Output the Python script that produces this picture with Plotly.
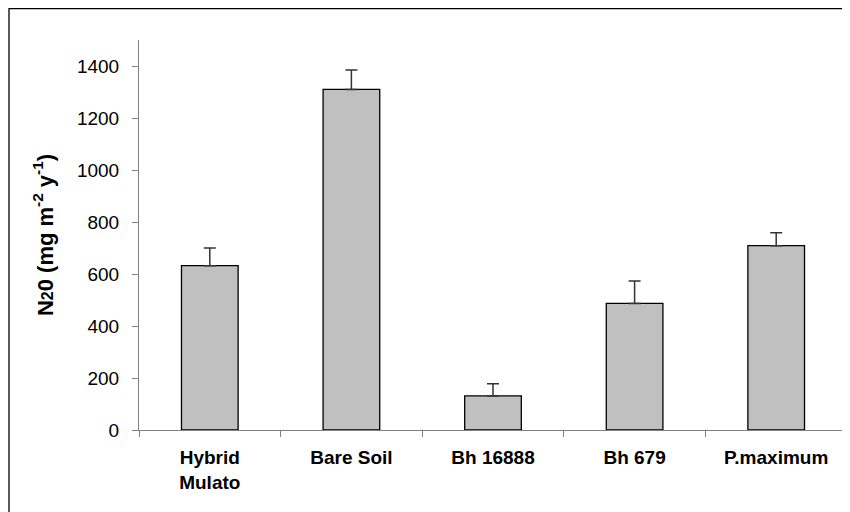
import plotly.graph_objects as go

categories = ["Hybrid<br>Mulato", "Bare Soil", "Bh 16888", "Bh 679", "P.maximum"]
values = [632, 1310, 131, 487, 709]
errors_plus = [68, 75, 47, 86, 50]
errors_minus = [0, 0, 0, 0, 0]
y_ticks = [0, 200, 400, 600, 800, 1000, 1200, 1400]

FONT = "Liberation Sans, Arial, sans-serif"

fig = go.Figure()
fig.add_trace(go.Bar(
    x=categories,
    y=values,
    width=0.4,
    marker=dict(color="#C0C0C0", line=dict(color="#000000", width=1.3)),
    error_y=dict(type="data", symmetric=False, array=errors_plus,
                 arrayminus=errors_minus, color="#333333", thickness=1.5, width=6),
))

# the page body adds an 8px offset, so the figure is 842x504
W, H = 842, 504
L, T = 131, 32
pw, ph = 708, 390
R = W - L - pw
B = H - T - ph

fig.update_layout(
    width=W, height=H,
    margin=dict(l=L, r=R, t=T, b=B, autoexpand=False),
    paper_bgcolor="white", plot_bgcolor="white",
    showlegend=False,
    font=dict(family=FONT, size=19, color="black"),
    bargap=0.6,
)
fig.update_xaxes(
    automargin=False,
    showline=True, linecolor="#808080", linewidth=1,
    ticks="outside", tickson="boundaries", ticklen=6, tickcolor="#808080",
    tickfont=dict(family=FONT, size=19, color="black", weight="bold"),
    ticklabelstandoff=10,
    showgrid=False, zeroline=False,
)
fig.update_yaxes(
    automargin=False,
    range=[0, 1500], tickvals=y_ticks,
    showline=True, linecolor="#808080", linewidth=1,
    ticks="outside", ticklen=6, tickcolor="#808080",
    tickfont=dict(family=FONT, size=19, color="black"),
    ticklabelstandoff=9,
    showgrid=False, zeroline=False,
    title=dict(
        text="<b>N<span style='font-size:16px'>2</span>0 (mg m<sup>-2</sup> y<sup>-1</sup>)</b>",
        font=dict(family=FONT, size=22, color="black"),
        standoff=17,
    ),
)

# outer frame (left and top edges visible)
x0 = (1 - L) / pw
x1 = (W + 20 - L) / pw
y_top = (H - B - 0.7) / ph
y_bot = (H - B - (H + 20)) / ph
fig.add_shape(type="rect", xref="paper", yref="paper", x0=x0, x1=x1, y0=y_bot, y1=y_top,
              line=dict(color="#000000", width=1.3), fillcolor="rgba(0,0,0,0)", layer="below")

fig.write_html("out.html")
